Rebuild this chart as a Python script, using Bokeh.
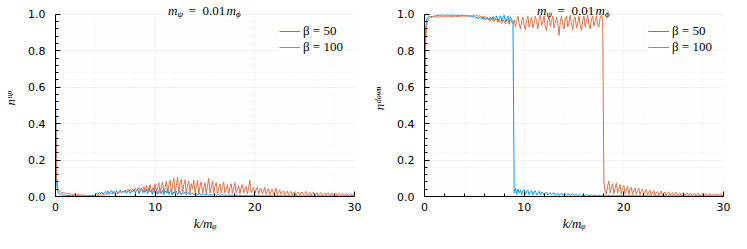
import numpy as np
from bokeh.plotting import figure
from bokeh.layouts import row
from bokeh.models import Range1d, FixedTicker, PrintfTickFormatter, Label
from bokeh.embed import file_html
from bokeh.resources import INLINE

# ---------------- data ----------------
K_STEP = 0.125  # sampling step of k/m_phi

x_ticks = [0, 10, 20, 30]
x_minor = [2, 4, 6, 8, 12, 14, 16, 18, 22, 24, 26, 28]
y_ticks = [0.0, 0.2, 0.4, 0.6, 0.8, 1.0]
y_minor = [0.04, 0.08, 0.12, 0.16, 0.24, 0.28, 0.32, 0.36, 0.44, 0.48, 0.52, 0.56,
           0.64, 0.68, 0.72, 0.76, 0.84, 0.88, 0.92, 0.96]

series_names = ["β = 50", "β = 100"]

# left panel: n^up
up50 = [
    0.57, 0.06, 0.025, 0.015, 0.012, 0.010, 0.008, 0.008,
    0.007, 0.006, 0.006, 0.005, 0.005, 0.005, 0.004, 0.004,
    0.004, 0.004, 0.003, 0.003, 0.003, 0.003, 0.003, 0.003,
    0.003, 0.003, 0.004, 0.004, 0.005, 0.006, 0.007, 0.008,
    0.010, 0.018, 0.012, 0.022, 0.015, 0.025, 0.013, 0.020,
    0.028, 0.015, 0.030, 0.018, 0.025, 0.034, 0.016, 0.028,
    0.020, 0.032, 0.015, 0.026, 0.036, 0.018, 0.030, 0.022,
    0.035, 0.017, 0.028, 0.038, 0.015, 0.030, 0.025, 0.040,
    0.018, 0.032, 0.042, 0.016, 0.030, 0.045, 0.020, 0.035,
    0.022, 0.040, 0.015, 0.048, 0.025, 0.035, 0.012, 0.045,
    0.020, 0.038, 0.012, 0.030, 0.045, 0.015, 0.035, 0.010,
    0.032, 0.020, 0.042, 0.012, 0.028, 0.038, 0.010, 0.025,
    0.018, 0.030, 0.010, 0.022, 0.028, 0.008, 0.020, 0.015,
    0.025, 0.010, 0.018, 0.022, 0.008, 0.016, 0.020, 0.010,
    0.015, 0.018, 0.008, 0.014, 0.017, 0.007, 0.012, 0.015,
    0.008, 0.012, 0.014, 0.006, 0.011, 0.013, 0.006, 0.010,
    0.012, 0.005, 0.009, 0.011, 0.005, 0.008, 0.010, 0.005,
    0.008, 0.009, 0.004, 0.007, 0.008, 0.004, 0.007, 0.008,
    0.004, 0.006, 0.007, 0.004, 0.006, 0.007, 0.003, 0.006,
    0.007, 0.003, 0.005, 0.006, 0.003, 0.005, 0.006, 0.003,
    0.005, 0.006, 0.003, 0.005, 0.006, 0.003, 0.004, 0.005,
    0.003, 0.004, 0.005, 0.003, 0.004, 0.005, 0.003, 0.004,
    0.005, 0.003, 0.004, 0.005, 0.003, 0.004, 0.004, 0.003,
    0.004, 0.004, 0.003, 0.004, 0.004, 0.003, 0.004, 0.004,
    0.003, 0.003, 0.004, 0.003, 0.003, 0.004, 0.003, 0.003,
    0.004, 0.003, 0.003, 0.004, 0.003, 0.003, 0.003, 0.004,
    0.003, 0.003, 0.003, 0.003, 0.004, 0.003, 0.003, 0.003,
    0.003, 0.004, 0.003, 0.003, 0.003, 0.003, 0.004, 0.003,
    0.003, 0.003, 0.003, 0.004, 0.003, 0.003, 0.003, 0.003,
    0.004, 0.003, 0.003, 0.003, 0.003, 0.004, 0.003, 0.003,
    0.003,
]

up100 = [
    0.47, 0.10, 0.040, 0.030, 0.025, 0.022, 0.020, 0.020,
    0.018, 0.017, 0.016, 0.015, 0.014, 0.013, 0.012, 0.012,
    0.011, 0.010, 0.010, 0.009, 0.009, 0.008, 0.008, 0.007,
    0.007, 0.006, 0.006, 0.005, 0.005, 0.005, 0.005, 0.005,
    0.005, 0.006, 0.006, 0.007, 0.008, 0.008, 0.009, 0.010,
    0.011, 0.012, 0.014, 0.013, 0.016, 0.015, 0.018, 0.017,
    0.020, 0.018, 0.024, 0.020, 0.028, 0.022, 0.030, 0.025,
    0.034, 0.026, 0.038, 0.028, 0.040, 0.030, 0.042, 0.032,
    0.045, 0.030, 0.040, 0.050, 0.028, 0.046, 0.035, 0.055,
    0.025, 0.060, 0.020, 0.045, 0.065, 0.018, 0.050, 0.030,
    0.070, 0.020, 0.055, 0.075, 0.018, 0.060, 0.080, 0.022,
    0.050, 0.085, 0.020, 0.065, 0.090, 0.015, 0.070, 0.100,
    0.020, 0.060, 0.105, 0.018, 0.075, 0.095, 0.020, 0.065,
    0.090, 0.015, 0.060, 0.085, 0.018, 0.070, 0.040, 0.090,
    0.020, 0.055, 0.088, 0.015, 0.060, 0.080, 0.020, 0.050,
    0.075, 0.015, 0.060, 0.100, 0.020, 0.050, 0.085, 0.018,
    0.055, 0.075, 0.015, 0.045, 0.070, 0.020, 0.050, 0.080,
    0.020, 0.040, 0.065, 0.015, 0.050, 0.070, 0.018, 0.045,
    0.075, 0.020, 0.040, 0.060, 0.015, 0.050, 0.065, 0.020,
    0.040, 0.055, 0.015, 0.045, 0.090, 0.020, 0.035, 0.050,
    0.015, 0.040, 0.050, 0.012, 0.035, 0.045, 0.015, 0.030,
    0.050, 0.012, 0.030, 0.042, 0.010, 0.028, 0.040, 0.012,
    0.025, 0.045, 0.010, 0.025, 0.035, 0.010, 0.022, 0.032,
    0.010, 0.020, 0.030, 0.008, 0.022, 0.028, 0.008, 0.018,
    0.026, 0.008, 0.018, 0.025, 0.007, 0.020, 0.024, 0.008,
    0.016, 0.028, 0.007, 0.015, 0.022, 0.006, 0.018, 0.024,
    0.006, 0.015, 0.020, 0.006, 0.016, 0.022, 0.006, 0.014,
    0.019, 0.005, 0.013, 0.020, 0.006, 0.015, 0.018, 0.005,
    0.012, 0.017, 0.006, 0.013, 0.018, 0.005, 0.012, 0.016,
    0.005, 0.011, 0.015, 0.005, 0.012, 0.016, 0.006, 0.010,
    0.012,
]

# right panel: n^down
down50 = [
    0.55, 0.93, 0.975, 0.985, 0.990, 0.985, 0.990, 0.988,
    0.992, 0.990, 0.995, 0.993, 0.996, 0.994, 0.995, 0.997,
    0.996, 0.994, 0.997, 0.995, 0.996, 0.993, 0.996, 0.995,
    0.997, 0.994, 0.996, 0.993, 0.995, 0.992, 0.996, 0.994,
    0.993, 0.990, 0.995, 0.988, 0.992, 0.986, 0.990, 0.984,
    0.988, 0.980, 0.986, 0.975, 0.984, 0.978, 0.985, 0.972,
    0.982, 0.970, 0.985, 0.975, 0.968, 0.984, 0.972, 0.988,
    0.965, 0.980, 0.990, 0.960, 0.978, 0.992, 0.962, 0.985,
    0.995, 0.958, 0.975, 0.990, 0.955, 0.985, 0.970, 0.960,
    0.020, 0.045, 0.012, 0.040, 0.020, 0.035, 0.010, 0.030,
    0.038, 0.012, 0.030, 0.035, 0.010, 0.025, 0.032, 0.010,
    0.028, 0.030, 0.008, 0.022, 0.028, 0.008, 0.025, 0.020,
    0.008, 0.018, 0.025, 0.007, 0.015, 0.022, 0.008, 0.018,
    0.020, 0.006, 0.015, 0.018, 0.006, 0.014, 0.017, 0.006,
    0.012, 0.015, 0.005, 0.011, 0.014, 0.005, 0.010, 0.013,
    0.005, 0.010, 0.012, 0.004, 0.009, 0.011, 0.004, 0.008,
    0.010, 0.004, 0.008, 0.009, 0.004, 0.007, 0.009, 0.004,
    0.007, 0.008, 0.004, 0.006, 0.008, 0.003, 0.006, 0.007,
    0.004, 0.006, 0.007, 0.003, 0.006, 0.006, 0.003, 0.005,
    0.006, 0.003, 0.005, 0.006, 0.003, 0.005, 0.005, 0.003,
    0.005, 0.005, 0.003, 0.004, 0.005, 0.003, 0.004, 0.005,
    0.003, 0.004, 0.005, 0.003, 0.004, 0.004, 0.003, 0.004,
    0.004, 0.003, 0.004, 0.004, 0.003, 0.004, 0.004, 0.003,
    0.003, 0.004, 0.003, 0.004, 0.003, 0.003, 0.004, 0.003,
    0.003, 0.003, 0.004, 0.003, 0.003, 0.003, 0.003, 0.004,
    0.003, 0.003, 0.003, 0.003, 0.004, 0.003, 0.003, 0.003,
    0.003, 0.004, 0.003, 0.003, 0.003, 0.003, 0.003, 0.003,
    0.003, 0.003, 0.003, 0.004, 0.003, 0.003, 0.003, 0.003,
    0.003, 0.003, 0.003, 0.003, 0.003, 0.004, 0.003, 0.003,
    0.003, 0.003, 0.003, 0.003, 0.003, 0.003, 0.003, 0.003,
    0.003,
]

down100 = [
    0.48, 0.86, 0.950, 0.970, 0.980, 0.985, 0.982, 0.990,
    0.985, 0.988, 0.984, 0.987, 0.985, 0.989, 0.986, 0.988,
    0.986, 0.989, 0.985, 0.988, 0.986, 0.990, 0.987, 0.989,
    0.988, 0.991, 0.987, 0.990, 0.988, 0.992, 0.989, 0.991,
    0.990, 0.993, 0.989, 0.992, 0.990, 0.994, 0.990, 0.993,
    0.995, 0.990, 0.996, 0.988, 0.994, 0.985, 0.992, 0.980,
    0.990, 0.975, 0.985, 0.970, 0.982, 0.965, 0.978, 0.970,
    0.962, 0.980, 0.968, 0.955, 0.975, 0.960, 0.950, 0.972,
    0.960, 0.948, 0.970, 0.965, 0.945, 0.968, 0.958, 0.950,
    0.970, 0.930, 0.960, 0.990, 0.950, 0.920, 0.965, 0.985,
    0.940, 0.915, 0.970, 0.990, 0.930, 0.960, 0.985, 0.925,
    0.950, 0.990, 0.960, 0.920, 0.975, 0.995, 0.940, 0.960,
    0.990, 0.930, 0.910, 0.970, 0.985, 0.935, 0.965, 0.990,
    0.925, 0.955, 0.985, 0.950, 0.885, 0.960, 0.990, 0.940,
    0.920, 0.975, 0.990, 0.930, 0.960, 0.995, 0.945, 0.915,
    0.970, 0.985, 0.925, 0.950, 0.990, 0.940, 0.910, 0.965,
    0.990, 0.930, 0.960, 0.995, 0.945, 0.920, 0.975, 0.990,
    0.935, 0.965, 0.990, 0.940, 0.930, 0.980, 0.995, 0.970,
    0.080, 0.030, 0.012, 0.060, 0.085, 0.020, 0.050, 0.070,
    0.015, 0.045, 0.075, 0.020, 0.040, 0.065, 0.012, 0.050,
    0.060, 0.015, 0.035, 0.055, 0.012, 0.040, 0.050, 0.010,
    0.035, 0.048, 0.012, 0.030, 0.045, 0.010, 0.028, 0.040,
    0.010, 0.025, 0.038, 0.008, 0.022, 0.035, 0.008, 0.020,
    0.032, 0.008, 0.018, 0.028, 0.007, 0.020, 0.030, 0.007,
    0.016, 0.026, 0.006, 0.018, 0.025, 0.006, 0.015, 0.022,
    0.006, 0.017, 0.024, 0.006, 0.014, 0.020, 0.005, 0.015,
    0.021, 0.005, 0.013, 0.019, 0.005, 0.014, 0.018, 0.005,
    0.012, 0.017, 0.005, 0.013, 0.018, 0.005, 0.012, 0.016,
    0.005, 0.011, 0.016, 0.005, 0.012, 0.015, 0.005, 0.010,
    0.014, 0.005, 0.011, 0.015, 0.005, 0.012, 0.014, 0.006,
    0.010,
]

# ---------------- styling ----------------
BLUE = "#009AFA"
ORANGE = "#E36F47"
FIG_H = 233
B_TOP, B_BOTTOM = 0, 35
FRAME_W = 300
FRAME_H = FIG_H - B_TOP - B_BOTTOM
TOP_PAD = 14                      # px of frame kept above y = 1 for the title
PX_Y = FRAME_H - TOP_PAD          # px per unit of y
Y_MAX = 1.0 + TOP_PAD / PX_Y
X0, X1 = 0, 30
SERIF = "Liberation Serif"
LEG_PAD, LEG_ROW = 7, 12


def k_of(values):
    return np.arange(len(values)) * K_STEP


def add_title(p):
    px = FRAME_W / (X1 - X0)
    # (text, style, size, x offset px, subscript)
    pieces = [("m", "italic", "13px", 0.0, False),
              ("ψ", "italic", "9px", 9.5, True),
              ("=", "normal", "13px", 20.5, False),
              ("0.01", "normal", "13px", 34.5, False),
              ("m", "italic", "13px", 58.5, False),
              ("ϕ", "italic", "9px", 68.0, True)]
    total = 74.0
    start = (X0 + X1) / 2 - total / 2 / px
    for txt, style, size, dx, sub in pieces:
        y = 1.0 + (3.5 if not sub else 0.5) / PX_Y
        p.add_layout(Label(x=start + dx / px, y=y, text=txt, text_font=SERIF,
                           text_font_style=style, text_font_size=size,
                           text_color="black", text_baseline="alphabetic",
                           text_align="left"))


def make_fig(width, b_left, b_right, ylabel, s50, s100):
    p = figure(width=width, height=FIG_H, output_backend="svg", toolbar_location=None,
               x_range=Range1d(X0, X1), y_range=Range1d(0, Y_MAX),
               min_border_left=b_left, min_border_right=b_right,
               min_border_top=B_TOP, min_border_bottom=B_BOTTOM)
    p.outline_line_color = None
    p.background_fill_color = "white"
    p.border_fill_color = "white"

    # vertical grid lines, only up to y = 1
    y_lo, y_hi = y_ticks[0], y_ticks[-1]
    p.segment(x0=x_minor, y0=[y_lo] * len(x_minor), x1=x_minor, y1=[y_hi] * len(x_minor),
              line_color="black", line_alpha=0.05, line_width=0.5)
    p.segment(x0=x_ticks, y0=[y_lo] * len(x_ticks), x1=x_ticks, y1=[y_hi] * len(x_ticks),
              line_color="black", line_alpha=0.1, line_width=0.5)
    p.xgrid.visible = False

    p.line(k_of(s50), s50, color=BLUE, line_width=1.0, legend_label=series_names[0])
    p.line(k_of(s100), s100, color=ORANGE, line_width=1.0, legend_label=series_names[1])

    p.xaxis.ticker = FixedTicker(ticks=x_ticks, minor_ticks=x_minor)
    p.yaxis.ticker = FixedTicker(ticks=y_ticks, minor_ticks=y_minor)
    p.xaxis.formatter = PrintfTickFormatter(format="%d")
    p.yaxis.formatter = PrintfTickFormatter(format="%.1f")
    p.yaxis.bounds = (y_lo, y_hi)

    for ax in (p.xaxis, p.yaxis):
        ax.axis_line_color = "black"
        ax.axis_line_width = 1
        ax.major_tick_in = 5
        ax.major_tick_out = 0
        ax.minor_tick_in = 3
        ax.minor_tick_out = 0
        ax.major_tick_line_color = "black"
        ax.minor_tick_line_color = "black"
        ax.major_label_text_font = "DejaVu Sans"
        ax.major_label_text_font_size = "11px"
        ax.major_label_text_color = "black"
        ax.axis_label_text_font = SERIF
        ax.axis_label_text_font_style = "italic"
        ax.axis_label_text_font_size = "13px"
        ax.axis_label_text_color = "black"
    p.xaxis.major_label_standoff = 6
    p.yaxis.major_label_standoff = 10
    p.xaxis.axis_label = "k/mᵩ"
    p.xaxis.axis_label_standoff = 2
    p.yaxis.axis_label = ylabel
    p.yaxis.axis_label_standoff = 7

    p.ygrid.grid_line_color = "black"
    p.ygrid.grid_line_alpha = 0.1
    p.ygrid.grid_line_width = 0.5
    p.ygrid.minor_grid_line_color = "black"
    p.ygrid.minor_grid_line_alpha = 0.05
    p.ygrid.minor_grid_line_width = 0.5

    lg = p.legend[0]
    legend_h = 2 * LEG_PAD + 2 * LEG_ROW
    lg.location = (224, FRAME_H - 19 - legend_h)
    lg.label_text_font = SERIF
    lg.label_text_font_size = "13px"
    lg.label_text_color = "black"
    lg.border_line_color = None
    lg.background_fill_color = "white"
    lg.background_fill_alpha = 1.0
    lg.padding = LEG_PAD
    lg.margin = 0
    lg.spacing = 0
    lg.glyph_width = 21
    lg.glyph_height = LEG_ROW
    lg.label_height = LEG_ROW
    lg.label_standoff = 3

    add_title(p)
    return p


p_up = make_fig(369, 54, 15, "nᵘᵖ", up50, up100)
p_down = make_fig(362, 54, 8, "nᵈᵒʷⁿ", down50, down100)

layout = row(p_up, p_down)

with open("out.html", "w") as f:
    f.write(file_html(layout, INLINE))
